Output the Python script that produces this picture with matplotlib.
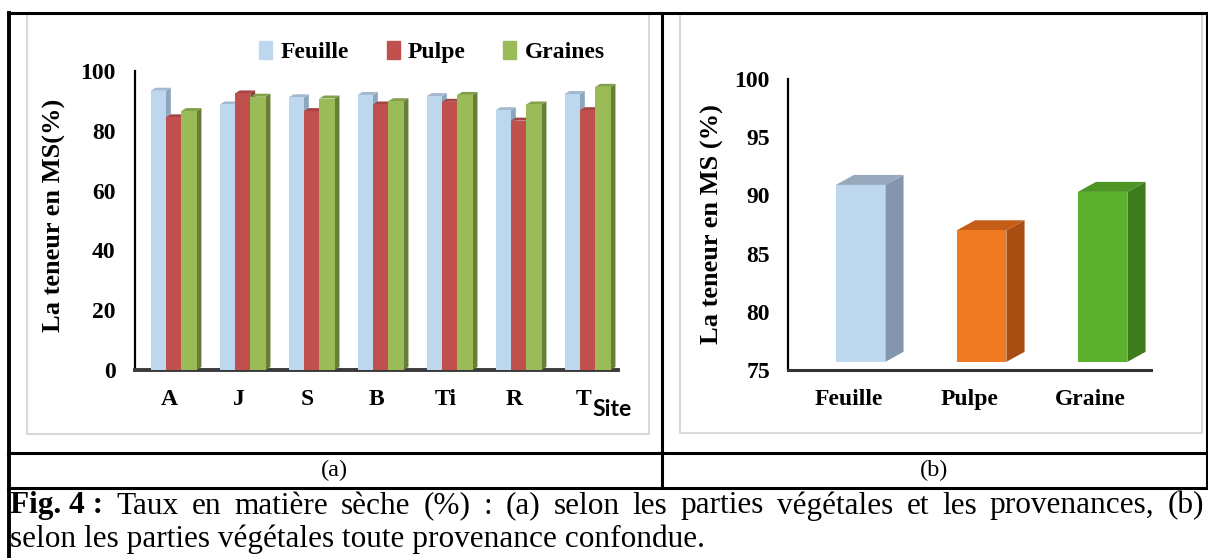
import matplotlib.pyplot as plt
from matplotlib.patches import Patch, Rectangle
from matplotlib.lines import Line2D

# (a) dry matter by site and plant part
sites = ['A', 'J', 'S', 'B', 'Ti', 'R', 'T']
feuille = [93.4, 88.8, 91.2, 92.0, 91.6, 86.9, 92.3]
pulpe = [84.5, 92.5, 86.6, 88.8, 89.7, 83.4, 86.9]
graines = [86.6, 91.4, 90.8, 89.9, 92.0, 88.8, 94.7]
series_names = ['Feuille', 'Pulpe', 'Graines']

# (b) dry matter by plant part, all sites
parts = ['Feuille', 'Pulpe', 'Graine']
moyennes = [90.9, 87.0, 90.3]

W, H = 1208, 558
plt.rcParams['font.family'] = ['Liberation Serif', 'DejaVu Serif']
plt.rcParams['font.weight'] = 'bold'

fig = plt.figure(figsize=(W / 100, H / 100), dpi=100)


def fx(px):
    return px / W


def fy(py):
    return 1 - py / H


def bar3d(ax, x, h, w, bottom, dx, dy, front, side, top, z):
    # front face + side and top faces (pseudo 3D like Excel)
    x0, x1 = x - w / 2, x + w / 2
    ax.fill([x1, x1 + dx, x1 + dx, x1], [bottom, bottom + dy, h + dy, h],
            color=side, lw=0, zorder=z, clip_on=False)
    ax.fill([x0, x0 + dx, x1 + dx, x1], [h, h + dy, h + dy, h],
            color=top, lw=0, zorder=z, clip_on=False)
    ax.bar(x, h - bottom, w, bottom=bottom, color=front, lw=0,
           zorder=z + 1, clip_on=False)


# ---- table lines and chart frames
for (xa, ya, xb, yb, lw) in [(8, 13, W, 13, 2.2), (9, 13, 9, H, 2.8),
                             (661.5, 13, 661.5, 488, 2.2), (8, 453, W, 453, 2.2),
                             (8, 488, W, 488, 2.2), (1207, 13, 1207, 488, 2.2)]:
    fig.add_artist(Line2D([fx(xa), fx(xb)], [fy(ya), fy(yb)], color='black', lw=lw))

for (xa, ya, xb, yb) in [(27, 14, 649, 434), (680, 14, 1202, 433)]:
    fig.add_artist(Rectangle((fx(xa), fy(yb)), fx(xb) - fx(xa), fy(ya) - fy(yb),
                             fill=False, edgecolor='#D9D9D9', lw=1.5))

# ---- chart (a)
ax1 = fig.add_axes([fx(135), fy(370), fx(618) - fx(135), fy(71) - fy(370)])
colors_a = [('#BDD7EE', '#8DA6BF', '#A3B9CF'),
            ('#C0504D', '#8A3532', '#A34542'),
            ('#9BBB59', '#677F36', '#83A04A')]
w = 0.222
for k, vals in enumerate([feuille, pulpe, graines]):
    front, side, top = colors_a[k]
    for i, v in enumerate(vals):
        bar3d(ax1, i + (k - 1) * w + 0.06, v, w, 0, 0.07, 1.0, front, side, top, 2 + 2 * k)

ax1.set_xlim(-0.5, len(sites) - 0.5)
ax1.set_ylim(0, 100)
ax1.set_yticks(range(0, 101, 20))
ax1.set_xticks(range(len(sites)))
ax1.set_xticklabels(sites)
ax1.tick_params(length=0, labelsize=17)
ax1.tick_params(axis='y', pad=14)
ax1.tick_params(axis='x', pad=14)
for s in ['top', 'right']:
    ax1.spines[s].set_visible(False)
ax1.spines['left'].set_linewidth(1.6)
ax1.spines['bottom'].set_linewidth(2.8)
ax1.spines['bottom'].set_color('#3A3A3A')
ax1.patch.set_alpha(0)

fig.text(fx(54), fy(215), 'La teneur en MS(%)', rotation=90, ha='center', va='center', size=19)
fig.text(fx(612), fy(409), 'Site', family='Lato', weight='bold', size=16.5, ha='center', va='center')

handles = [Patch(color=c[0]) for c in colors_a]
fig.legend(handles, series_names, loc='center', bbox_to_anchor=(fx(432), fy(52)), ncol=3,
           frameon=False, prop={'size': 17, 'weight': 'bold'}, handlelength=0.55,
           handleheight=0.8, handletextpad=0.35, columnspacing=1.6)

# ---- chart (b)
ax2 = fig.add_axes([fx(788), fy(370), fx(1151) - fx(788), fy(79) - fy(370)])
colors_b = [('#BDD7EE', '#8496AE', '#98A9BD'),
            ('#EF7A22', '#A94E12', '#C65D16'),
            ('#5DAF2E', '#3D7B1C', '#4D9625')]
for i, v in enumerate(moyennes):
    front, side, top = colors_b[i]
    bar3d(ax2, i + 0.1, v, 0.41, 75.7, 0.15, 0.86, front, side, top, 2)

ax2.set_xlim(-0.5, len(parts) - 0.5)
ax2.set_ylim(75, 100)
ax2.set_yticks(range(75, 101, 5))
ax2.set_xticks(range(len(parts)))
ax2.set_xticklabels(parts)
ax2.tick_params(length=0, labelsize=17)
ax2.tick_params(axis='y', pad=13)
ax2.tick_params(axis='x', pad=14)
for s in ['top', 'right']:
    ax2.spines[s].set_visible(False)
ax2.spines['left'].set_linewidth(1.6)
ax2.spines['bottom'].set_linewidth(2.2)
ax2.spines['bottom'].set_color('#333333')
ax2.patch.set_alpha(0)

fig.text(fx(712), fy(224), 'La teneur en MS (%)', rotation=90, ha='center', va='center', size=19)

# ---- sub-captions and figure caption
fig.text(fx(334), fy(470), '(a)', ha='center', va='center', size=17.5, weight='normal')
fig.text(fx(934), fy(470), '(b)', ha='center', va='center', size=17.5, weight='normal')

cap_size = 22.5
left, right = 10, 1204
fig.canvas.draw()
r = fig.canvas.get_renderer()
tb = fig.text(fx(left), fy(506), 'Fig. 4 :', ha='left', va='center', size=cap_size, weight='bold')
x = left + tb.get_window_extent(r).width
words = 'Taux en matière sèche (%) : (a) selon les parties végétales et les provenances, (b)'.split()
texts = [fig.text(0, fy(506), wd, ha='left', va='center', size=cap_size, weight='normal') for wd in words]
widths = [t.get_window_extent(r).width for t in texts]
gap = (right - x - sum(widths)) / len(words)
for t, wd in zip(texts, widths):
    x += gap
    t.set_x(fx(x))
    x += wd
fig.text(fx(left), fy(539), 'selon les parties végétales toute provenance confondue.',
         ha='left', va='center', size=cap_size, weight='normal')

fig.savefig('out.png', dpi=100)
